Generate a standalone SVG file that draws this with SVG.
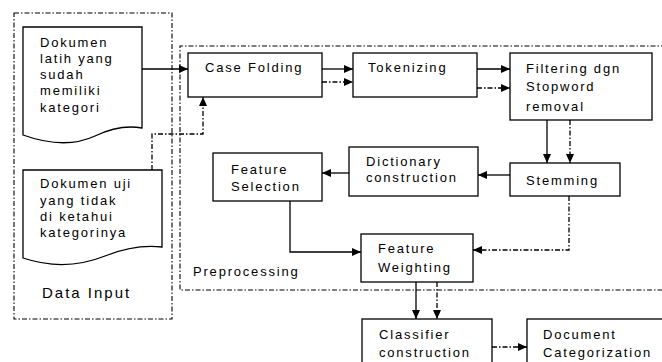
<svg xmlns="http://www.w3.org/2000/svg" width="662" height="362" viewBox="0 0 662 362">
<style>
.box{fill:#fff;stroke:#000;stroke-width:1.3}
.grp{fill:none;stroke:#000;stroke-width:1.1;stroke-dasharray:5 2 1.5 2}
.t{font-family:"Liberation Sans",Arial,sans-serif;font-size:13px;fill:#000;letter-spacing:1.8px}
.c{fill:none;stroke:#000;stroke-width:1.3}
.s{marker-end:url(#ah)}
.d{stroke-dasharray:5 2 1.5 2;marker-end:url(#ah)}
</style>
<defs>
<marker id="ah" markerWidth="9" markerHeight="8" refX="9" refY="4" orient="auto" markerUnits="userSpaceOnUse">
<path d="M0,0 L9,4 L0,8 Z" fill="#000"/>
</marker>
</defs>
<rect width="662" height="362" fill="#fff"/>
<g id="data-input">
<rect class="grp" x="14" y="13" width="158" height="306"/>
<text class="t" x="42" y="298" style="font-size:15px;letter-spacing:2px">Data Input</text>
</g>
<g id="preprocessing">
<path class="grp" d="M666,46 H180 V290 H666"/>
<text class="t" x="193" y="276">Preprocessing</text>
</g>
<g id="doc-latih">
<path class="box" d="M23,27 H142 V128 Q120,124 95,136 Q65,150 23,135 Z"/>
<text class="t" x="40" y="47">Dokumen</text>
<text class="t" x="40" y="63">latih yang</text>
<text class="t" x="40" y="79">sudah</text>
<text class="t" x="40" y="95">memiliki</text>
<text class="t" x="40" y="112">kategori</text>
</g>
<g id="doc-uji">
<path class="box" d="M23,170 H162 V247 Q135,244 105,256 Q65,272 23,258 Z"/>
<text class="t" x="40" y="188">Dokumen uji</text>
<text class="t" x="40" y="205">yang tidak</text>
<text class="t" x="40" y="221">di ketahui</text>
<text class="t" x="40" y="237">kategorinya</text>
</g>
<g id="case-folding">
<rect class="box" x="188" y="53" width="134" height="44"/>
<text class="t" x="205" y="72">Case Folding</text>
</g>
<g id="tokenizing">
<rect class="box" x="353" y="53" width="124" height="44"/>
<text class="t" x="368" y="72">Tokenizing</text>
</g>
<g id="filtering">
<rect class="box" x="510" y="53" width="142" height="67"/>
<text class="t" x="526" y="73">Filtering dgn</text>
<text class="t" x="526" y="91">Stopword</text>
<text class="t" x="526" y="111">removal</text>
</g>
<g id="stemming">
<rect class="box" x="510" y="163" width="110" height="33"/>
<text class="t" x="526" y="185">Stemming</text>
</g>
<g id="dictionary">
<rect class="box" x="349" y="147" width="129" height="49"/>
<text class="t" x="366" y="166">Dictionary</text>
<text class="t" x="366" y="182">construction</text>
</g>
<g id="feature-selection">
<rect class="box" x="213" y="153" width="109" height="48"/>
<text class="t" x="231" y="174">Feature</text>
<text class="t" x="231" y="191">Selection</text>
</g>
<g id="feature-weighting">
<rect class="box" x="361" y="234" width="112" height="48"/>
<text class="t" x="378" y="253">Feature</text>
<text class="t" x="378" y="272">Weighting</text>
</g>
<g id="classifier">
<rect class="box" x="362" y="319" width="130" height="50"/>
<text class="t" x="379" y="339">Classifier</text>
<text class="t" x="379" y="357">construction</text>
</g>
<g id="doc-categorization">
<rect class="box" x="527" y="319" width="145" height="50"/>
<text class="t" x="543" y="339">Document</text>
<text class="t" x="543" y="357">Categorization</text>
</g>
<g id="connectors">
<path class="c s" d="M142,69 H188"/>
<path class="c d" d="M152,170 V134 H203 V97"/>
<path class="c s" d="M322,69 H353"/>
<path class="c d" d="M322,82 H353"/>
<path class="c s" d="M477,69 H510"/>
<path class="c d" d="M477,88 H510"/>
<path class="c s" d="M547,120 V163"/>
<path class="c d" d="M570,120 V163"/>
<path class="c s" d="M510,175 H478"/>
<path class="c s" d="M349,173 H322"/>
<path class="c s" d="M290,201 V252 H361"/>
<path class="c d" d="M569,196 V250 H473"/>
<path class="c s" d="M416,282 V319"/>
<path class="c d" d="M437,282 V319"/>
<path class="c d" d="M492,347 H527"/>
</g>
</svg>
